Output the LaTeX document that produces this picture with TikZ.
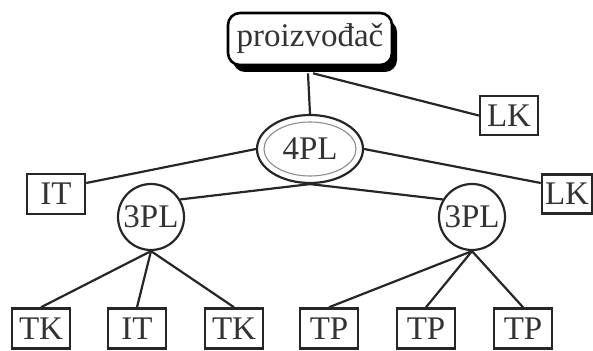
\documentclass[tikz,border=0pt]{standalone}
\usepackage{fontspec}
\setmainfont{Liberation Serif}
\usetikzlibrary{shapes.geometric,shadows}
\begin{document}
\begin{tikzpicture}[x=1pt,y=-1pt,
  every node/.style={font=\fontsize{33}{36}\selectfont, text=black!80, inner sep=0pt},
  conn/.style={line width=2.2pt, draw=black!85},
  leaf/.style={draw=black!85, line width=2.5pt, rectangle, minimum width=58pt, minimum height=40pt},
  hub/.style={draw=black!85, line width=2.2pt, circle, minimum size=66pt},
  topbox/.style={draw=black, line width=2.6pt, rounded corners=12pt, fill=white,
     minimum width=164pt, minimum height=52pt,
     drop shadow={shadow xshift=5pt, shadow yshift=-7pt, fill=black, opacity=1}}]
\useasboundingbox (0,0) rectangle (593,350);

% top level
\node[topbox] (prod) at (310,39) {proizvođač};
\node[leaf, minimum height=39pt] (lkA) at (509,115.5) {LK};

% fourth-party logistics provider
\node[ellipse, draw=black!85, line width=2.2pt, minimum width=106pt, minimum height=68pt] (fpl) at (310,149) {};
\draw[black!45, line width=1.1pt] (fpl.center) ellipse [x radius=46pt, y radius=27pt];
\node at (fpl.center) {4PL};

\node[leaf] (itA) at (56,194) {IT};
\node[leaf, minimum width=50pt, minimum height=39pt] (lkB) at (567,194) {LK};

% third-party logistics providers
\node[hub] (tplA) at (151,217) {3PL};
\node[hub] (tplB) at (472,217) {3PL};

% bottom row
\node[leaf] (tkA) at (41,328.5) {TK};
\node[leaf] (itB) at (137,328.5) {IT};
\node[leaf] (tkB) at (234,328.5) {TK};
\node[leaf] (tpA) at (329,328.5) {TP};
\node[leaf] (tpB) at (426,328.5) {TP};
\node[leaf] (tpC) at (523,328.5) {TP};

% connectors
\draw[conn] ([xshift=-2pt,yshift=-7pt]prod.south) -- (fpl.north);
\draw[conn] ([xshift=3pt,yshift=-7pt]prod.south) -- (lkA.west);
\draw[conn] (fpl.west) -- ([yshift=11pt]itA.east);
\draw[conn] (fpl.east) -- ([yshift=11pt]lkB.west);
\draw[conn] (fpl.south) -- (tplA.31);
\draw[conn] (fpl.south) -- (tplB.149);
\draw[conn] (tplA.south) -- (tkA.north);
\draw[conn] (tplA.south) -- (itB.north);
\draw[conn] (tplA.south) -- (tkB.north);
\draw[conn] (tplB.south) -- (tpA.north);
\draw[conn] (tplB.south) -- (tpB.north);
\draw[conn] (tplB.south) -- (tpC.north);
\end{tikzpicture}
\end{document}
